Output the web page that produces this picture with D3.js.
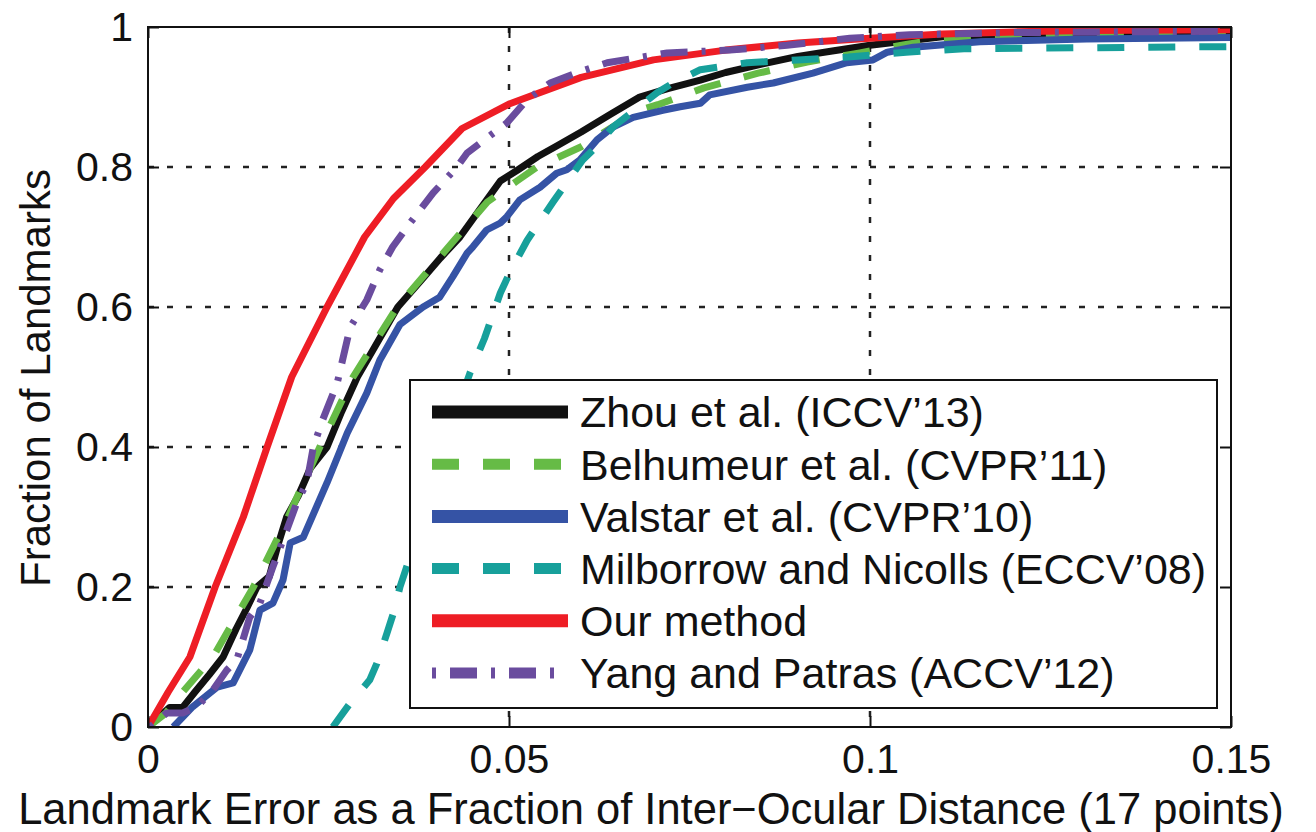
<!DOCTYPE html>
<html>
<head>
<meta charset="utf-8">
<script src="https://cdn.jsdelivr.net/npm/d3@7"></script>
<style>
  body { margin: 0; background: #fff; }
  svg { display: block; font-family: "Liberation Sans", Arial, sans-serif; }
</style>
</head>
<body>
<svg id="chart" width="1316" height="832"></svg>
<script>
// tick values / labels
const xTicks = [0, 0.05, 0.1, 0.15];
const xTickLabels = ["0", "0.05", "0.1", "0.15"];
const yTicks = [0, 0.2, 0.4, 0.6, 0.8, 1];
const yTickLabels = ["0", "0.2", "0.4", "0.6", "0.8", "1"];

// series names (legend order = draw order)
const seriesNames = [
  "Zhou et al. (ICCV’13)",
  "Belhumeur et al. (CVPR’11)",
  "Valstar et al. (CVPR’10)",
  "Milborrow and Nicolls (ECCV’08)",
  "Our method",
  "Yang and Patras (ACCV’12)"
];

// Zhou et al.
const zhouX = [0, 0.0030, 0.0048, 0.0065, 0.0085, 0.0104, 0.0122, 0.0137, 0.0151, 0.0168, 0.0180, 0.0192, 0.0208, 0.0225, 0.0248, 0.0268, 0.0290, 0.0318, 0.0346, 0.0380, 0.0405, 0.0432, 0.0460, 0.0488, 0.0511, 0.0540, 0.0566, 0.0600, 0.0640, 0.0681, 0.0720, 0.0765, 0.0800, 0.0850, 0.0900, 0.0950, 0.1000, 0.1050, 0.1100, 0.1150, 0.1200, 0.1300, 0.1400, 0.1500];
const zhouY = [0, 0.028, 0.028, 0.05, 0.075, 0.10, 0.14, 0.17, 0.20, 0.215, 0.26, 0.30, 0.33, 0.37, 0.40, 0.45, 0.50, 0.55, 0.60, 0.64, 0.67, 0.70, 0.74, 0.78, 0.795, 0.815, 0.83, 0.85, 0.875, 0.90, 0.912, 0.924, 0.935, 0.947, 0.958, 0.966, 0.974, 0.980, 0.986, 0.988, 0.990, 0.991, 0.992, 0.993];

// Belhumeur et al.
const belX = [0, 0.0025, 0.0048, 0.0090, 0.0146, 0.0194, 0.0238, 0.0284, 0.0345, 0.0428, 0.0470, 0.0511, 0.0539, 0.0600, 0.0680, 0.0706, 0.0770, 0.0845, 0.0913, 0.0986, 0.1050, 0.1100, 0.1200, 0.1300, 0.1500];
const belY = [0, 0.02, 0.05, 0.10, 0.20, 0.30, 0.40, 0.50, 0.60, 0.70, 0.75, 0.78, 0.80, 0.829, 0.881, 0.889, 0.913, 0.934, 0.950, 0.963, 0.975, 0.983, 0.988, 0.990, 0.991];

// Valstar et al.
const valX = [0.0035, 0.0062, 0.0096, 0.0118, 0.0141, 0.0155, 0.0173, 0.0187, 0.0197, 0.0215, 0.0248, 0.0276, 0.0303, 0.0321, 0.0349, 0.0381, 0.0404, 0.0422, 0.0442, 0.0450, 0.0469, 0.0488, 0.0497, 0.0515, 0.0543, 0.0566, 0.0580, 0.0598, 0.0622, 0.0644, 0.0672, 0.0713, 0.0737, 0.0765, 0.0778, 0.0830, 0.0866, 0.0921, 0.0968, 0.1004, 0.1024, 0.1060, 0.1152, 0.1300, 0.1500];
const valY = [0, 0.029, 0.057, 0.063, 0.11, 0.167, 0.177, 0.21, 0.263, 0.271, 0.349, 0.42, 0.477, 0.524, 0.575, 0.60, 0.614, 0.643, 0.677, 0.686, 0.71, 0.72, 0.729, 0.753, 0.771, 0.791, 0.796, 0.81, 0.839, 0.857, 0.871, 0.881, 0.886, 0.891, 0.903, 0.914, 0.92, 0.934, 0.949, 0.953, 0.964, 0.971, 0.979, 0.983, 0.985];

// Milborrow and Nicolls
const milX = [0.0256, 0.0280, 0.0307, 0.0317, 0.0331, 0.0340, 0.0349, 0.0359, 0.0390, 0.0420, 0.0446, 0.0466, 0.0488, 0.0501, 0.0525, 0.0561, 0.0602, 0.0616, 0.0644, 0.0705, 0.0727, 0.0765, 0.0830, 0.0900, 0.0970, 0.1050, 0.1130, 0.1500];
const milY = [0, 0.034, 0.067, 0.091, 0.134, 0.163, 0.20, 0.231, 0.33, 0.43, 0.506, 0.555, 0.62, 0.649, 0.695, 0.75, 0.81, 0.824, 0.857, 0.906, 0.92, 0.939, 0.949, 0.953, 0.957, 0.964, 0.969, 0.972];

// Our method
const oursX = [0, 0.0028, 0.0058, 0.0093, 0.0132, 0.0165, 0.0199, 0.0248, 0.0300, 0.0340, 0.0384, 0.0435, 0.0500, 0.0600, 0.0700, 0.0800, 0.0900, 0.1000, 0.1100, 0.1200, 0.1300, 0.1500];
const oursY = [0, 0.05, 0.10, 0.20, 0.30, 0.40, 0.50, 0.60, 0.70, 0.755, 0.80, 0.855, 0.89, 0.928, 0.953, 0.967, 0.977, 0.984, 0.990, 0.993, 0.995, 0.996];

// Yang and Patras
const yangX = [0.0003, 0.0026, 0.0048, 0.0068, 0.0090, 0.0109, 0.0123, 0.0141, 0.0155, 0.0173, 0.0187, 0.0206, 0.0220, 0.0229, 0.0242, 0.0262, 0.0280, 0.0303, 0.0321, 0.0339, 0.0363, 0.0395, 0.0428, 0.0442, 0.0497, 0.0525, 0.0557, 0.0598, 0.0636, 0.0719, 0.0806, 0.0885, 0.0972, 0.1055, 0.1200, 0.1500];
const yangY = [0, 0.02, 0.02, 0.029, 0.053, 0.081, 0.096, 0.157, 0.177, 0.229, 0.267, 0.32, 0.349, 0.40, 0.439, 0.491, 0.571, 0.61, 0.653, 0.686, 0.72, 0.763, 0.80, 0.82, 0.863, 0.896, 0.92, 0.936, 0.949, 0.963, 0.967, 0.974, 0.984, 0.989, 0.992, 0.994];

const seriesX = [zhouX, belX, valX, milX, oursX, yangX];
const seriesY = [zhouY, belY, valY, milY, oursY, yangY];

const colors = ["#111111", "#66bb46", "#3553a5", "#17a09b", "#ee1d25", "#6a4c9e"];
const dashes = [null, "27,24", null, "27,24", null, "4,14,27,14"];

const margin = { top: 27, right: 85, bottom: 105, left: 148 };
const width = 1316, height = 832;
const graphWidth = width - margin.left - margin.right;
const graphHeight = height - margin.top - margin.bottom;

const svg = d3.select("#chart");
const container = svg.append("g")
  .attr("transform", `translate(${margin.left}, ${margin.top})`);

const x = d3.scaleLinear().domain([0, 0.15]).range([0, graphWidth]);
const y = d3.scaleLinear().domain([0, 1]).range([graphHeight, 0]);

// grid
const gridX = xTicks.filter((d) => d > 0 && d < 0.15);
const gridY = yTicks.filter((d) => d > 0 && d < 1);
container.selectAll(".gx").data(gridX).join("line")
  .attr("x1", (d) => x(d)).attr("x2", (d) => x(d))
  .attr("y1", 0).attr("y2", graphHeight)
  .style("stroke", "#222").style("stroke-width", 2.5).style("stroke-dasharray", "6,13");
container.selectAll(".gy").data(gridY).join("line")
  .attr("y1", (d) => y(d)).attr("y2", (d) => y(d))
  .attr("x1", 0).attr("x2", graphWidth)
  .style("stroke", "#222").style("stroke-width", 2.5).style("stroke-dasharray", "6,13");

// clip
svg.append("defs").append("clipPath").attr("id", "clip")
  .append("rect").attr("width", graphWidth).attr("height", graphHeight);

const line = d3.line().x((d) => x(d[0])).y((d) => y(d[1]));

container.append("g").attr("clip-path", "url(#clip)")
  .selectAll("path")
  .data(seriesX.map((xs, i) => xs.map((v, j) => [v, seriesY[i][j]])))
  .join("path")
  .attr("d", line)
  .style("fill", "none")
  .style("stroke", (d, i) => colors[i])
  .style("stroke-width", 7)
  .style("stroke-linejoin", "round")
  .style("stroke-dasharray", (d, i) => dashes[i]);

// axes
const xAxis = d3.axisBottom(x).tickValues(xTicks)
  .tickFormat((d, i) => xTickLabels[i]).tickSizeInner(-11).tickSizeOuter(0).tickPadding(17);
const yAxis = d3.axisLeft(y).tickValues(yTicks)
  .tickFormat((d, i) => yTickLabels[i]).tickSizeInner(-11).tickSizeOuter(0).tickPadding(15);
const xAxisTop = d3.axisTop(x).tickValues(xTicks).tickFormat("").tickSizeInner(-11).tickSizeOuter(0);
const yAxisRight = d3.axisRight(y).tickValues(yTicks).tickFormat("").tickSizeInner(-11).tickSizeOuter(0);

const gx = container.append("g").attr("transform", `translate(0, ${graphHeight})`).call(xAxis);
const gy = container.append("g").call(yAxis);
const gxt = container.append("g").call(xAxisTop);
const gyr = container.append("g").attr("transform", `translate(${graphWidth}, 0)`).call(yAxisRight);

[gx, gy, gxt, gyr].forEach((g) => {
  g.select(".domain").remove();
  g.selectAll("line").style("stroke", "#111").style("stroke-width", 2);
  g.selectAll("text").style("font-size", "41px").style("fill", "#111")
    .style("font-family", "'Liberation Sans', Arial, sans-serif");
});

// box
container.append("rect")
  .attr("width", graphWidth).attr("height", graphHeight)
  .style("fill", "none").style("stroke", "#111").style("stroke-width", 2);

// axis labels
svg.append("text")
  .attr("x", 651).attr("y", 824)
  .text("Landmark Error as a Fraction of Inter−Ocular Distance (17 points)")
  .style("text-anchor", "middle").style("font-size", "43.5px").style("fill", "#111");

svg.append("text")
  .attr("transform", "translate(50, 378) rotate(-90)")
  .text("Fraction of Landmarks")
  .style("text-anchor", "middle").style("font-size", "42px").style("fill", "#111");

// legend
const legend = svg.append("g");
legend.append("rect")
  .attr("x", 410).attr("y", 380).attr("width", 807).attr("height", 328)
  .style("fill", "#fff").style("stroke", "#111").style("stroke-width", 2);

const rows = legend.selectAll(".row").data(seriesNames).join("g")
  .attr("transform", (d, i) => `translate(0, ${412 + i * 52.2})`);
rows.append("line")
  .attr("x1", 432).attr("x2", 568)
  .style("stroke", (d, i) => colors[i])
  .style("stroke-width", (d, i) => (dashes[i] ? 11 : 13))
  .style("stroke-dasharray", (d, i) => dashes[i]);
rows.append("text")
  .attr("x", 580).attr("dy", "0.36em")
  .text((d) => d)
  .style("font-size", "43px").style("fill", "#111");
</script>
</body>
</html>
